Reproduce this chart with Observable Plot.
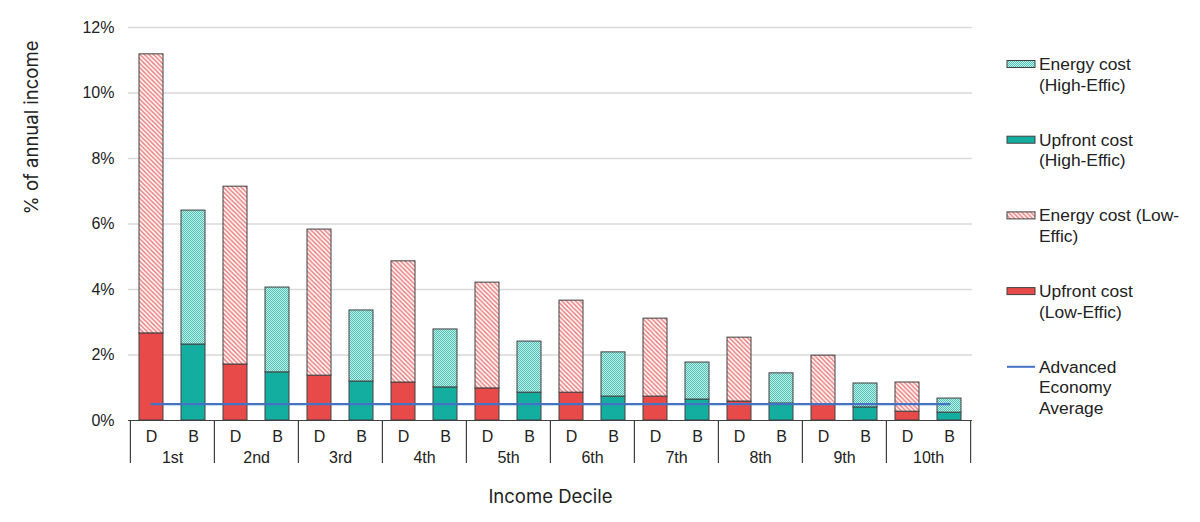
<!DOCTYPE html>
<html>
<head>
<meta charset="utf-8">
<script src="https://cdn.jsdelivr.net/npm/d3@7"></script>
<script src="https://cdn.jsdelivr.net/npm/@observablehq/plot@0.6"></script>
<style>
  body { margin: 0; background: #fff; }
  #wrap { position: relative; width: 1200px; height: 522px; font-family: "Liberation Sans", Arial, sans-serif; }
  #legend { position: absolute; left: 0; top: 0; }
</style>
</head>
<body>
<svg width="0" height="0" style="position:absolute">
  <defs>
    <pattern id="hatchRed" patternUnits="userSpaceOnUse" width="4.5" height="4.5">
      <rect width="4.5" height="4.5" fill="#ffffff"></rect>
      <path d="M-1,-1 L5.5,5.5 M3.5,-1 L5.5,1 M-1,3.5 L1,5.5" stroke="#f07f7f" stroke-width="1.5"></path>
    </pattern>
    <pattern id="checkTeal" patternUnits="userSpaceOnUse" width="2" height="2">
      <rect width="2" height="2" fill="#c4ede7"></rect>
      <rect x="0" y="0" width="1" height="1" fill="#4cc3b6"></rect>
      <rect x="1" y="1" width="1" height="1" fill="#4cc3b6"></rect>
    </pattern>
  </defs>
</svg>
<div id="wrap"></div>
<script>
// ---- data ----
const deciles = ["1st","2nd","3rd","4th","5th","6th","7th","8th","9th","10th"];
const barTypes = ["D","B"];
// Low-efficiency (D)
const upfrontLow = [2.66,1.71,1.37,1.16,0.98,0.85,0.73,0.58,0.49,0.27];
const energyLow  = [8.52,5.43,4.46,3.70,3.23,2.81,2.38,1.95,1.49,0.89];
// High-efficiency (B)
const upfrontHigh = [2.32,1.47,1.19,1.01,0.85,0.73,0.64,0.52,0.40,0.24];
const energyHigh  = [4.09,2.59,2.17,1.77,1.56,1.35,1.13,0.92,0.73,0.43];
const advancedAverage = 0.5;
const yTicks = [0,2,4,6,8,10,12];
const seriesNames = ["Upfront cost (Low-Effic)","Energy cost (Low-Effic)","Upfront cost (High-Effic)","Energy cost (High-Effic)"];
const seriesFills = ["#e84a4a","url(#hatchRed)","#13ae9f","url(#checkTeal)"];

// ---- table ----
const keys = [];
const rows = [];
deciles.forEach((d, i) => {
  keys.push(d + "|D", d + "|B");
  rows.push({key: d + "|D", series: seriesNames[0], value: upfrontLow[i]});
  rows.push({key: d + "|D", series: seriesNames[1], value: energyLow[i]});
  rows.push({key: d + "|B", series: seriesNames[2], value: upfrontHigh[i]});
  rows.push({key: d + "|B", series: seriesNames[3], value: energyHigh[i]});
});

const W = 1200, H = 522;
const mL = 128, mR = 228, mT = 27, mB = 102;
const step = (W - mL - mR) / keys.length;
const innerH = H - mT - mB;

const plot = Plot.plot({
  width: W, height: H,
  marginLeft: mL, marginRight: mR, marginTop: mT, marginBottom: mB,
  style: {fontFamily: "'Liberation Sans', Arial, sans-serif", fontSize: "15px", color: "#222"},
  x: {type: "band", domain: keys, paddingInner: 0.43, paddingOuter: 0.215, axis: null},
  y: {domain: [0, 12], axis: null},
  color: {type: "ordinal", domain: seriesNames, range: seriesFills},
  marks: [
    Plot.ruleY(yTicks.slice(1), {stroke: "#d9d9d9", strokeWidth: 1.5}),
    Plot.axisY({ticks: yTicks, tickFormat: d => d + "%", tickSize: 0, tickPadding: 14, fontSize: 16, label: null}),
    Plot.barY(rows, Plot.stackY({x: "key", y: "value", fill: "series", stroke: "#404040", strokeWidth: 1, order: null})),
    Plot.ruleY([0], {stroke: "#404040", strokeWidth: 1.2}),
    Plot.lineY(keys, {x: d => d, y: () => advancedAverage, stroke: "#4472c4", strokeWidth: 2.2}),
    Plot.ruleX(deciles, {x: d => d + "|D", dx: -step / 2, insetTop: innerH, insetBottom: -43, stroke: "#404040", strokeWidth: 1.2}),
    Plot.ruleX([deciles[deciles.length - 1]], {x: d => d + "|B", dx: step / 2, insetTop: innerH, insetBottom: -43, stroke: "#404040", strokeWidth: 1.2}),
    Plot.text(keys, {x: d => d, text: d => d.split("|")[1], frameAnchor: "bottom", lineAnchor: "middle", dy: 16, fontSize: 16, fill: "#222"}),
    Plot.text(deciles, {x: d => d + "|D", dx: step / 2, frameAnchor: "bottom", lineAnchor: "middle", dy: 37, fontSize: 16, fill: "#222"}),
    Plot.text(["Income Decile"], {frameAnchor: "bottom", lineAnchor: "middle", dy: 77, fontSize: 18.5, fontFamily: "Inter, 'Open Sans', sans-serif", fill: "#222"}),
    Plot.text(["% of annual income"], {frameAnchor: "top-left", textAnchor: "middle", lineAnchor: "middle", dx: -96, dy: 100, rotate: -90, fontSize: 18.5, fontFamily: "Inter, 'Open Sans', sans-serif", fill: "#222"})
  ]
});
document.getElementById("wrap").appendChild(plot);

// ---- legend (right side) ----
const legendItems = [
  {fill: seriesFills[3], lines: ["Energy cost", "(High-Effic)"], kind: "box"},
  {fill: seriesFills[2], lines: ["Upfront cost", "(High-Effic)"], kind: "box"},
  {fill: seriesFills[1], lines: ["Energy cost (Low-", "Effic)"], kind: "box"},
  {fill: seriesFills[0], lines: ["Upfront cost", "(Low-Effic)"], kind: "box"},
  {fill: "#4472c4", lines: ["Advanced", "Economy", "Average"], kind: "line"}
];
const lg = d3.select("#wrap").append("svg").attr("id", "legend").attr("width", W).attr("height", H)
  .style("font-family", "'Liberation Sans', Arial, sans-serif").style("font-size", "17.4px");
legendItems.forEach((it, i) => {
  const cy = 64 + i * 75.7;
  const g = lg.append("g").attr("transform", `translate(1007,${cy})`);
  if (it.kind === "box") {
    g.append("rect").attr("x", 0).attr("y", -3.5).attr("width", 28).attr("height", 7)
      .attr("fill", it.fill).attr("stroke", "#404040").attr("stroke-width", 1);
  } else {
    g.append("line").attr("x1", 0).attr("x2", 28).attr("y1", 0).attr("y2", 0)
      .attr("stroke", it.fill).attr("stroke-width", 2);
  }
  it.lines.forEach((t, j) => {
    g.append("text").attr("x", 32).attr("y", j * 20.5).attr("dy", "0.35em").attr("fill", "#222").text(t);
  });
});
</script>
</body>
</html>
